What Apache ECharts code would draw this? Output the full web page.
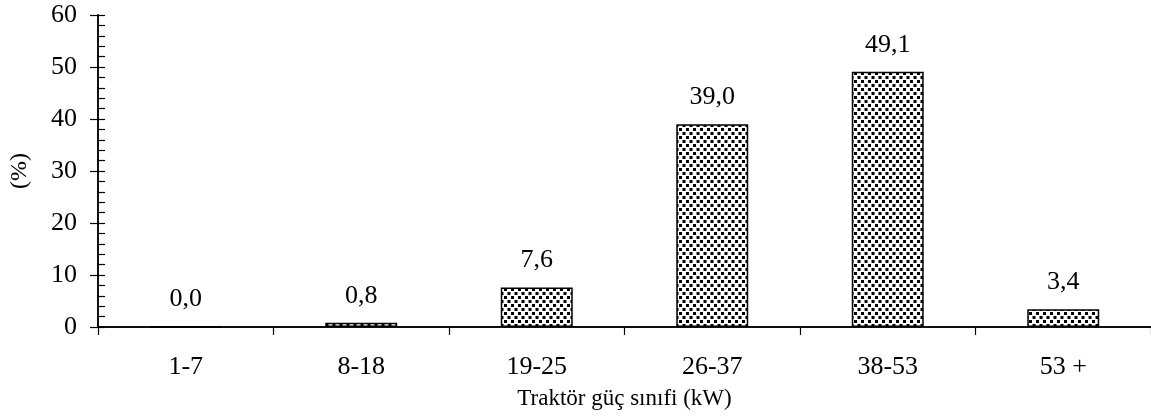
<!DOCTYPE html>
<html>
<head>
<meta charset="utf-8">
<script src="https://cdn.jsdelivr.net/npm/echarts@6/dist/echarts.min.js"></script>
<style>
  html, body { margin: 0; padding: 0; background: #fff; }
  #chart { width: 1151px; height: 417px; }
</style>
</head>
<body>
<div id="chart"></div>
<script>
// Tractor power classes and their share (%)
const categories = ['1-7', '8-18', '19-25', '26-37', '38-53', '53 +'];
const shares = [0.0, 0.8, 7.6, 39.0, 49.1, 3.4];
const yTicks = [0, 10, 20, 30, 40, 50, 60];

// Dotted fill used for the bars
function dotPattern() {
  const c = document.createElement('canvas');
  c.width = 7; c.height = 8;
  const g = c.getContext('2d');
  g.fillStyle = '#fff';
  g.fillRect(0, 0, 7, 8);
  g.fillStyle = '#000';
  g.fillRect(0, 0, 3, 3);
  g.fillRect(3.5, 4, 3, 3);
  return c;
}

const font = '"Liberation Serif", "Times New Roman", serif';
const chart = echarts.init(document.getElementById('chart'), null, { renderer: 'canvas' });

chart.setOption({
  animation: false,
  textStyle: { fontFamily: font },
  grid: { left: 93, right: 0, top: 15, bottom: 90, containLabel: false },
  xAxis: [{
    type: 'category',
    data: categories,
    name: 'Traktör güç sınıfi (kW)',
    nameLocation: 'middle',
    nameGap: 60,
    nameTextStyle: { fontFamily: font, fontSize: 23, color: '#000' },
    axisLine: { lineStyle: { color: '#000', width: 1.5 } },
    axisTick: { show: true, length: 8, lineStyle: { color: '#000', width: 1.2 } },
    axisLabel: { fontFamily: font, fontSize: 26, color: '#000', margin: 27 }
  }, {
    type: 'category',
    data: categories,
    position: 'top',
    axisLine: { lineStyle: { color: '#000', width: 1.5 } },
    axisTick: { show: false },
    axisLabel: { show: false }
  }],
  yAxis: [{
    type: 'value',
    min: yTicks[0],
    max: yTicks[yTicks.length - 1],
    interval: 10,
    name: '(%)',
    nameLocation: 'middle',
    nameGap: 66,
    nameRotate: 90,
    nameTextStyle: { fontFamily: font, fontSize: 24, color: '#000' },
    axisLine: { show: true, lineStyle: { color: '#000', width: 1.5 } },
    axisTick: { show: true, length: 8, lineStyle: { color: '#000', width: 1.2 } },
    axisLabel: { fontFamily: font, fontSize: 26, color: '#000', margin: 21 },
    splitLine: { show: false }
  }, {
    type: 'value',
    position: 'left',
    min: yTicks[0],
    max: yTicks[yTicks.length - 1],
    interval: 2,
    axisLine: { show: true, lineStyle: { color: '#000', width: 1.5 } },
    axisTick: { show: true, inside: true, length: 7, lineStyle: { color: '#000', width: 1.2 } },
    axisLabel: { show: false },
    splitLine: { show: false }
  }],
  series: [{
    type: 'bar',
    data: shares,
    barWidth: '41%',
    itemStyle: {
      color: { image: dotPattern(), repeat: 'repeat' },
      borderColor: '#000',
      borderWidth: 1.5
    },
    label: {
      show: true,
      position: 'top',
      distance: 14,
      fontFamily: font,
      fontSize: 26,
      color: '#000',
      formatter: p => p.value.toFixed(1).replace('.', ',')
    }
  }]
});
</script>
</body>
</html>
